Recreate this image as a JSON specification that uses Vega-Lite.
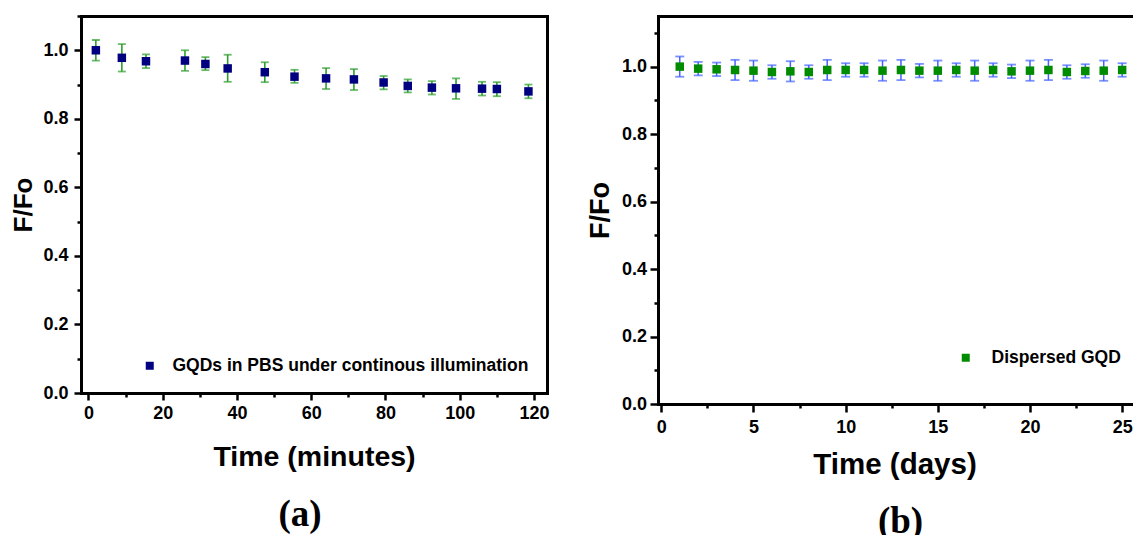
{
  "$schema": "https://vega.github.io/schema/vega-lite/v6.json",
  "padding": {"left": 10, "top": 7, "right": 0, "bottom": 0},
  "spacing": 36,
  "background": "white",
  "config": {
    "view": {"stroke": null},
    "font": "Liberation Sans",
    "axis": {
      "grid": false,
      "domainColor": "black",
      "domainWidth": 3,
      "domainCap": "square",
      "tickColor": "black",
      "tickWidth": 2.5,
      "labelFont": "Liberation Sans",
      "labelFontSize": 18,
      "labelFontWeight": "bold",
      "labelColor": "black",
      "labelOverlap": false,
      "labelFlush": false,
      "titleFont": "Liberation Sans",
      "titleFontWeight": "bold",
      "titleColor": "black"
    }
  },
  "resolve": {
    "scale": {"x": "independent", "y": "independent", "color": "independent"},
    "legend": {"color": "independent"}
  },
  "datasets": {
    "a": [
      {"t": 2, "f": 1.000, "lo": 0.970, "hi": 1.030, "series": "GQDs in PBS under continous illumination"},
      {"t": 9, "f": 0.978, "lo": 0.938, "hi": 1.018, "series": "GQDs in PBS under continous illumination"},
      {"t": 15.5, "f": 0.968, "lo": 0.948, "hi": 0.988, "series": "GQDs in PBS under continous illumination"},
      {"t": 26, "f": 0.970, "lo": 0.940, "hi": 1.000, "series": "GQDs in PBS under continous illumination"},
      {"t": 31.5, "f": 0.960, "lo": 0.942, "hi": 0.980, "series": "GQDs in PBS under continous illumination"},
      {"t": 37.5, "f": 0.947, "lo": 0.908, "hi": 0.987, "series": "GQDs in PBS under continous illumination"},
      {"t": 47.5, "f": 0.936, "lo": 0.907, "hi": 0.965, "series": "GQDs in PBS under continous illumination"},
      {"t": 55.5, "f": 0.923, "lo": 0.905, "hi": 0.943, "series": "GQDs in PBS under continous illumination"},
      {"t": 64, "f": 0.918, "lo": 0.887, "hi": 0.948, "series": "GQDs in PBS under continous illumination"},
      {"t": 71.5, "f": 0.915, "lo": 0.884, "hi": 0.945, "series": "GQDs in PBS under continous illumination"},
      {"t": 79.5, "f": 0.906, "lo": 0.886, "hi": 0.925, "series": "GQDs in PBS under continous illumination"},
      {"t": 86, "f": 0.896, "lo": 0.877, "hi": 0.915, "series": "GQDs in PBS under continous illumination"},
      {"t": 92.5, "f": 0.891, "lo": 0.871, "hi": 0.910, "series": "GQDs in PBS under continous illumination"},
      {"t": 99, "f": 0.889, "lo": 0.858, "hi": 0.918, "series": "GQDs in PBS under continous illumination"},
      {"t": 106, "f": 0.888, "lo": 0.868, "hi": 0.908, "series": "GQDs in PBS under continous illumination"},
      {"t": 110, "f": 0.887, "lo": 0.866, "hi": 0.907, "series": "GQDs in PBS under continous illumination"},
      {"t": 118.5, "f": 0.880, "lo": 0.860, "hi": 0.900, "series": "GQDs in PBS under continous illumination"}
    ],
    "b": [
      {"d": 1, "f": 1.000, "lo": 0.970, "hi": 1.030, "series": "Dispersed GQD"},
      {"d": 2, "f": 0.994, "lo": 0.974, "hi": 1.014, "series": "Dispersed GQD"},
      {"d": 3, "f": 0.992, "lo": 0.972, "hi": 1.012, "series": "Dispersed GQD"},
      {"d": 4, "f": 0.990, "lo": 0.960, "hi": 1.020, "series": "Dispersed GQD"},
      {"d": 5, "f": 0.988, "lo": 0.958, "hi": 1.018, "series": "Dispersed GQD"},
      {"d": 6, "f": 0.984, "lo": 0.964, "hi": 1.004, "series": "Dispersed GQD"},
      {"d": 7, "f": 0.986, "lo": 0.956, "hi": 1.016, "series": "Dispersed GQD"},
      {"d": 8, "f": 0.984, "lo": 0.964, "hi": 1.004, "series": "Dispersed GQD"},
      {"d": 9, "f": 0.990, "lo": 0.960, "hi": 1.020, "series": "Dispersed GQD"},
      {"d": 10, "f": 0.990, "lo": 0.970, "hi": 1.010, "series": "Dispersed GQD"},
      {"d": 11, "f": 0.990, "lo": 0.970, "hi": 1.010, "series": "Dispersed GQD"},
      {"d": 12, "f": 0.988, "lo": 0.958, "hi": 1.018, "series": "Dispersed GQD"},
      {"d": 13, "f": 0.990, "lo": 0.960, "hi": 1.020, "series": "Dispersed GQD"},
      {"d": 14, "f": 0.988, "lo": 0.968, "hi": 1.008, "series": "Dispersed GQD"},
      {"d": 15, "f": 0.988, "lo": 0.958, "hi": 1.018, "series": "Dispersed GQD"},
      {"d": 16, "f": 0.990, "lo": 0.970, "hi": 1.010, "series": "Dispersed GQD"},
      {"d": 17, "f": 0.988, "lo": 0.958, "hi": 1.018, "series": "Dispersed GQD"},
      {"d": 18, "f": 0.990, "lo": 0.970, "hi": 1.010, "series": "Dispersed GQD"},
      {"d": 19, "f": 0.986, "lo": 0.966, "hi": 1.006, "series": "Dispersed GQD"},
      {"d": 20, "f": 0.988, "lo": 0.958, "hi": 1.018, "series": "Dispersed GQD"},
      {"d": 21, "f": 0.990, "lo": 0.960, "hi": 1.020, "series": "Dispersed GQD"},
      {"d": 22, "f": 0.984, "lo": 0.964, "hi": 1.004, "series": "Dispersed GQD"},
      {"d": 23, "f": 0.987, "lo": 0.967, "hi": 1.007, "series": "Dispersed GQD"},
      {"d": 24, "f": 0.988, "lo": 0.958, "hi": 1.018, "series": "Dispersed GQD"},
      {"d": 25, "f": 0.990, "lo": 0.970, "hi": 1.010, "series": "Dispersed GQD"}
    ]
  },
  "hconcat": [
    {
      "width": 466,
      "height": 377,
      "data": {"name": "a"},
      "title": {"text": "(a)", "orient": "bottom", "font": "Liberation Serif", "fontSize": 37, "fontWeight": "bold", "color": "black", "frame": "group", "anchor": "middle", "dx": -14, "offset": 26},
      "resolve": {"axis": {"x": "independent", "y": "independent"}},
      "layer": [
        {
          "mark": {"type": "rule", "color": "#2e9e2e", "strokeWidth": 1.6},
          "encoding": {
            "x": {"field": "t", "type": "quantitative", "scale": {"domain": [-2, 123.5], "nice": false, "zero": false},
              "axis": {"orient": "bottom", "values": [0,10,20,30,40,50,60,70,80,90,100,110,120],
                "labelExpr": "datum.value % 20 === 0 ? datum.label : ''",
                "tickSize": {"condition": {"test": "datum.value % 20 !== 0", "value": 4}, "value": 7},
                "labelPadding": 4, "title": "Time (minutes)", "titleFontSize": 28.5, "titlePadding": 20}},
            "y": {"field": "lo", "type": "quantitative", "scale": {"domain": [0, 1.1], "nice": false, "zero": false},
              "axis": {"orient": "left", "values": [0,0.1,0.2,0.3,0.4,0.5,0.6,0.7,0.8,0.9,1.0,1.1],
                "labelExpr": "round(datum.value*10) % 2 === 0 ? format(datum.value, '.1f') : ''",
                "tickSize": {"condition": {"test": "round(datum.value*10) % 2 === 1", "value": 4}, "value": 7},
                "labelPadding": 6, "title": "F/Fo", "titleFontSize": 26, "titlePadding": 6}},
            "y2": {"field": "hi"}
          }
        },
        {
          "mark": {"type": "tick", "orient": "horizontal", "color": "#2e9e2e", "size": 8, "thickness": 1.8},
          "encoding": {
            "x": {"field": "t", "type": "quantitative", "axis": null},
            "y": {"field": "lo", "type": "quantitative", "axis": null}
          }
        },
        {
          "mark": {"type": "tick", "orient": "horizontal", "color": "#2e9e2e", "size": 8, "thickness": 1.8},
          "encoding": {
            "x": {"field": "t", "type": "quantitative", "axis": null},
            "y": {"field": "hi", "type": "quantitative", "axis": null}
          }
        },
        {
          "mark": {"type": "square", "size": 72, "opacity": 1},
          "encoding": {
            "x": {"field": "t", "type": "quantitative", "axis": null},
            "y": {"field": "f", "type": "quantitative", "axis": null},
            "color": {"field": "series", "type": "nominal", "scale": {"range": ["#000080"]},
              "legend": {"orient": "none", "legendX": 60, "legendY": 341, "title": null, "symbolType": "square", "symbolSize": 64, "symbolStrokeWidth": 0,
                "labelFont": "Liberation Sans", "labelFontSize": 17.5, "labelFontWeight": "bold", "labelColor": "black", "labelOffset": 14, "padding": 0, "labelLimit": 600}}
          }
        },
        {
          "mark": {"type": "rule", "opacity": 0},
          "encoding": {
            "x": {"field": "t", "type": "quantitative", "axis": {"orient": "top", "labels": false, "ticks": false, "title": null}},
            "y": {"field": "f", "type": "quantitative", "axis": {"orient": "right", "labels": false, "ticks": false, "title": null}}
          }
        }
      ]
    },
    {
      "width": 473,
      "height": 388,
      "data": {"name": "b"},
      "title": {"text": "(b)", "orient": "bottom", "font": "Liberation Serif", "fontSize": 37, "fontWeight": "bold", "color": "black", "frame": "group", "anchor": "middle", "dx": 6, "offset": 25},
      "resolve": {"axis": {"x": "independent", "y": "independent"}},
      "layer": [
        {
          "mark": {"type": "rule", "color": "#4263ff", "strokeWidth": 1.5},
          "encoding": {
            "x": {"field": "d", "type": "quantitative", "scale": {"domain": [-0.18, 25.48], "nice": false, "zero": false},
              "axis": {"orient": "bottom", "values": [0,2.5,5,7.5,10,12.5,15,17.5,20,22.5,25],
                "labelExpr": "datum.value % 5 === 0 ? datum.label : ''",
                "tickSize": {"condition": {"test": "datum.value % 5 !== 0", "value": 4}, "value": 8},
                "labelPadding": 6, "title": "Time (days)", "titleFontSize": 29.5, "titlePadding": 14}},
            "y": {"field": "lo", "type": "quantitative", "scale": {"domain": [0, 1.15], "nice": false, "zero": false},
              "axis": {"orient": "left", "values": [0,0.1,0.2,0.3,0.4,0.5,0.6,0.7,0.8,0.9,1.0,1.1],
                "labelExpr": "round(datum.value*10) % 2 === 0 ? format(datum.value, '.1f') : ''",
                "tickSize": {"condition": {"test": "round(datum.value*10) % 2 === 1", "value": 4}, "value": 8},
                "labelPadding": 3.5, "title": "F/Fo", "titleFontSize": 27, "titlePadding": 7}},
            "y2": {"field": "hi"}
          }
        },
        {
          "mark": {"type": "tick", "orient": "horizontal", "color": "#4263ff", "size": 9, "thickness": 1.8},
          "encoding": {
            "x": {"field": "d", "type": "quantitative", "axis": null},
            "y": {"field": "lo", "type": "quantitative", "axis": null}
          }
        },
        {
          "mark": {"type": "tick", "orient": "horizontal", "color": "#4263ff", "size": 9, "thickness": 1.8},
          "encoding": {
            "x": {"field": "d", "type": "quantitative", "axis": null},
            "y": {"field": "hi", "type": "quantitative", "axis": null}
          }
        },
        {
          "mark": {"type": "square", "size": 72, "opacity": 1},
          "encoding": {
            "x": {"field": "d", "type": "quantitative", "axis": null},
            "y": {"field": "f", "type": "quantitative", "axis": null},
            "color": {"field": "series", "type": "nominal", "scale": {"range": ["#008c00"]},
              "legend": {"orient": "none", "legendX": 299, "legendY": 333, "title": null, "symbolType": "square", "symbolSize": 64, "symbolStrokeWidth": 0,
                "labelFont": "Liberation Sans", "labelFontSize": 17.5, "labelFontWeight": "bold", "labelColor": "black", "labelOffset": 17, "padding": 0, "labelLimit": 600}}
          }
        },
        {
          "mark": {"type": "rule", "opacity": 0},
          "encoding": {
            "x": {"field": "d", "type": "quantitative", "axis": {"orient": "top", "labels": false, "ticks": false, "title": null}},
            "y": {"field": "f", "type": "quantitative", "axis": null}
          }
        }
      ]
    }
  ]
}
